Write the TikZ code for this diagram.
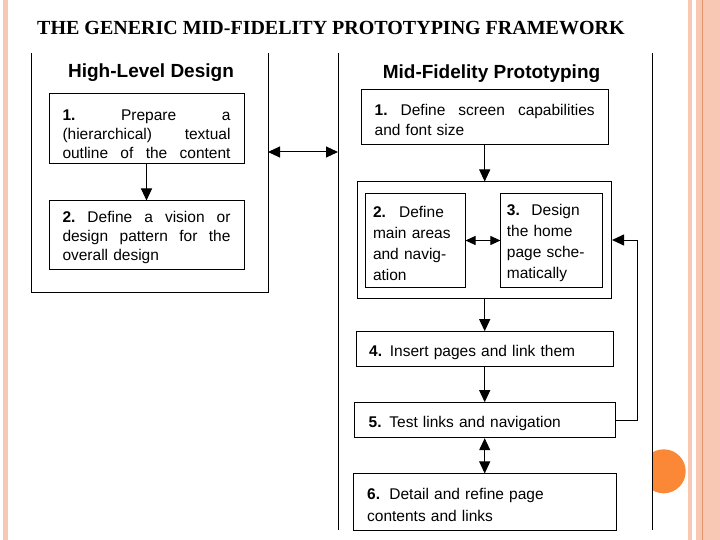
\documentclass[tikz,border=0pt]{standalone}
\usepackage{fontspec}
\setmainfont{Liberation Serif}
\setsansfont{Liberation Sans}
\usetikzlibrary{arrows.meta,positioning}
\definecolor{stripe}{HTML}{F9C8B4}
\definecolor{stripedark}{HTML}{E0956D}
\definecolor{dot}{HTML}{FA8836}

\tikzset{
  panel/.style={inner sep=0pt, outer sep=0pt, fill=white},
  stepbox/.style={draw, line width=1pt, fill=white, align=left, inner ysep=2pt,
    font=\sffamily\fontsize{15.5}{20}\selectfont,
    execute at begin node={\rule{0pt}{17pt}}},
  paneltitle/.style={font=\sffamily\bfseries\fontsize{19}{22}\selectfont},
  link/.style={line width=1pt, -{Triangle[length=12pt,width=11pt]}},
  twoway/.style={line width=1pt, {Triangle[length=12pt,width=11pt]}-{Triangle[length=12pt,width=11pt]}},
  shortway/.style={line width=1pt, {Triangle[length=10pt,width=9pt]}-{Triangle[length=10pt,width=9pt]}},
}

\begin{document}
\begin{tikzpicture}[x=1pt, y=-1pt]
  \useasboundingbox (0,0) rectangle (720,540);

  % slide decoration
  \fill [stripe] (3.3,0) rectangle (8.3,540);
  \fill [stripe] (688,0) rectangle (692,540);
  \fill [stripe] (696,0) rectangle (720,540);
  \draw [stripedark, line width=1pt] (702.5,0) -- (702.5,540);
  \fill [dot] (663.7,471.3) circle (22pt);

  \node (title) [anchor=base west, inner sep=0pt, font=\bfseries\fontsize{20}{24}\selectfont] at (37,35)
    {THE GENERIC MID-FIDELITY PROTOTYPING FRAMEWORK};

  % high-level design
  \node (hl) [panel, minimum width=236.3pt, minimum height=239pt] at (149.85,172.5) {};
  \draw [line width=1pt] (hl.north west) |- (hl.south east) -- (hl.north east);
  \node (hltitle) [paneltitle] at (151,73) {High-Level Design};

  \node (hl1) [stepbox, text width=168pt, inner xsep=13.5pt, minimum height=70pt,
    font=\sffamily\fontsize{15.5}{19}\selectfont, execute at begin node={\rule{0pt}{21pt}}] at (146.5,129)
    {{\bfseries 1.}\hfill Prepare\hfill a\\(hierarchical)\hfill textual\\outline\hfill of\hfill the\hfill content};
  \node (hl2) [stepbox, text width=168pt, inner xsep=13.5pt, minimum height=68pt,
    font=\sffamily\fontsize{15.5}{19}\selectfont] at (146.5,235)
    {{\bfseries 2.}\hfill Define\hfill a\hfill vision\hfill or\\design\hfill pattern\hfill for\hfill the\\overall design};
  \draw [link] (hl1) -- (hl2);

  % mid-fidelity prototyping
  \node (mf) [panel, minimum width=314.7pt, minimum height=477pt] at (495.35,291.5) {};
  \draw [line width=1pt] (mf.north west) -- (mf.south west) (mf.north east) -- (mf.south east);
  \node (mftitle) [paneltitle] at (491.5,73.5) {Mid-Fidelity Prototyping};

  \node (mf1) [stepbox, text width=220pt, inner xsep=13.3pt, minimum height=55pt] at (484.7,117.5)
    {{\bfseries 1.}\hfill Define\hfill screen\hfill capabilities\\and font size};
  \node (grp) [draw, line width=1pt, minimum width=253.7pt, minimum height=116pt] at (484.7,240) {};
  \node (mf2) [stepbox, text width=84pt, inner xsep=8pt, minimum height=93pt,
    font=\sffamily\fontsize{15.5}{21}\selectfont] at (415,240.5)
    {{\bfseries 2.}\hspace{0.85em}Define\\main areas\\and navig-\\ation};
  \node (mf3) [stepbox, text width=90pt, inner xsep=6pt, minimum height=93pt,
    font=\sffamily\fontsize{15.5}{21}\selectfont] at (551.9,240.5)
    {{\bfseries 3.}\hspace{0.75em}Design\\the home\\page sche-\\matically};
  \node (mf4) [stepbox, text width=231pt, inner xsep=13pt, minimum height=35pt] at (484.7,349.2)
    {{\bfseries 4.} Insert pages and link them};
  \node (mf5) [stepbox, text width=232pt, inner xsep=14.3pt, minimum height=35pt] at (484.7,420.2)
    {{\bfseries 5.} Test links and navigation};
  \node (mf6) [stepbox, text width=235pt, inner xsep=14pt, minimum height=56.7pt,
    font=\sffamily\fontsize{15.5}{22}\selectfont] at (484.7,502.3)
    {{\bfseries 6.}\hspace{0.6em}Detail and refine page\\contents and links};

  \draw [twoway] (hl.east |- 0,152) -- (mf.west |- 0,152);
  \draw [link] (mf1) -- (grp);
  \draw [shortway] (mf2) -- (mf3);
  \draw [link] (grp) -- (mf4);
  \draw [link] (mf4) -- (mf5);
  \draw [twoway] (mf5) -- (mf6);
  \draw [link] (mf5.east) -- ++(21.7,0) |- (grp.east);
\end{tikzpicture}
\end{document}
